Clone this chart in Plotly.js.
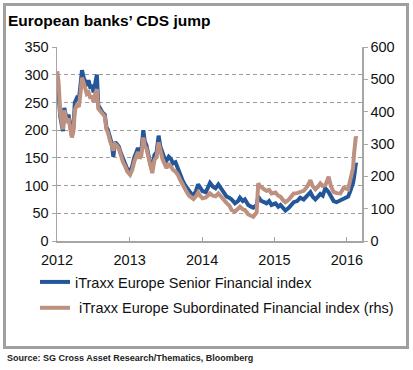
<!DOCTYPE html>
<html>
<head>
<meta charset="utf-8">
<script src="https://cdn.plot.ly/plotly-3.0.1.min.js"></script>
<style>html,body{margin:0;padding:0;background:#fff;}#chart{width:413px;height:370px;}</style>
</head>
<body>
<div id="chart"></div>
<script>
const dates = [
"2012-01-02","2012-01-09","2012-01-17","2012-01-24","2012-01-31","2012-02-07","2012-02-14","2012-02-21","2012-02-28","2012-03-06",
"2012-03-16","2012-03-24","2012-03-31","2012-04-10","2012-04-20","2012-04-28","2012-05-06","2012-05-14","2012-05-21","2012-05-30",
"2012-06-08","2012-06-18","2012-06-25","2012-07-03","2012-07-12","2012-07-20","2012-07-27","2012-08-07","2012-08-17","2012-08-29",
"2012-09-06","2012-09-14","2012-09-24","2012-10-03","2012-10-11","2012-10-19","2012-10-29","2012-11-08","2012-11-16","2012-11-28",
"2012-12-10","2012-12-20","2013-01-03","2013-01-14","2013-01-24","2013-02-04","2013-02-12","2013-02-20","2013-03-01","2013-03-11",
"2013-03-18","2013-03-27","2013-04-08","2013-04-16","2013-04-25","2013-05-06","2013-05-17","2013-05-27","2013-06-05","2013-06-15",
"2013-06-25","2013-07-06","2013-07-17","2013-07-28","2013-08-08","2013-08-20","2013-09-01","2013-09-12","2013-09-24","2013-10-05",
"2013-10-17","2013-10-28","2013-11-08","2013-11-19","2013-12-01","2013-12-12","2013-12-22","2014-01-03","2014-01-20","2014-02-10",
"2014-02-25","2014-03-10","2014-03-24","2014-04-17","2014-05-05","2014-05-18","2014-05-30","2014-06-16","2014-07-01","2014-07-11",
"2014-07-25","2014-08-05","2014-08-22","2014-09-05","2014-09-16","2014-10-03","2014-10-11","2014-10-20","2014-10-28","2014-11-10",
"2014-11-22","2014-12-05","2014-12-17","2015-01-06","2015-01-20","2015-01-31","2015-02-15","2015-02-25","2015-03-14","2015-03-25",
"2015-04-08","2015-04-25","2015-05-11","2015-05-28","2015-06-15","2015-07-01","2015-07-12","2015-07-26","2015-08-08","2015-08-20",
"2015-09-01","2015-09-14","2015-10-01","2015-10-12","2015-10-26","2015-11-10","2015-11-29","2015-12-16","2016-01-07","2016-01-18",
"2016-01-24","2016-02-01","2016-02-06","2016-02-10","2016-02-15","2016-02-18"
];
const seniorFin = [
285,265,225,215,198,240,225,215,228,212,
190,205,250,258,255,280,308,295,288,280,
290,275,282,268,285,300,245,238,232,228,
205,200,185,175,152,178,175,170,160,148,
140,130,125,135,150,162,168,158,162,200,
180,172,150,138,130,155,160,190,170,158,
150,145,152,148,140,142,130,120,110,102,
95,88,85,82,90,102,95,90,88,105,
98,95,102,88,80,78,75,68,72,78,
72,75,65,62,60,65,80,75,72,70,
68,72,65,68,62,65,58,55,60,65,
70,72,78,75,82,88,80,75,80,85,
82,95,88,80,72,70,73,75,80,90,
95,105,115,130,140,138
];
const subFin = [
525,490,395,370,345,405,385,365,380,355,
320,340,405,420,415,455,505,490,470,455,
460,440,450,430,455,470,410,400,395,385,
345,335,310,295,280,300,295,285,265,245,
230,215,205,220,245,260,275,255,265,320,
295,285,250,225,210,250,260,305,280,255,
240,225,240,230,220,215,205,190,175,160,
150,140,135,130,138,150,140,132,135,147,
140,138,147,127,117,110,96,91,100,106,
98,96,82,78,75,88,178,170,165,160,
155,158,147,150,140,137,125,120,128,138,
147,148,152,155,168,188,170,160,168,178,
170,172,199,170,152,148,147,165,160,185,
209,225,270,313,323,318
];
const seriesNames = ["iTraxx Europe Senior Financial index", " iTraxx Europe Subordinated Financial index (rhs)"];
const leftTicks = [0,50,100,150,200,250,300,350];
const rightTicks = [0,100,200,300,400,500,600];

const font = "Arial, 'Liberation Sans', sans-serif";
const traces = [
  {x: dates, y: seniorFin, type: "scatter", mode: "lines", name: seriesNames[0], legendgroup: "a",
   line: {color: "#23579A", width: 4}, xaxis: "x", yaxis: "y"},
  {x: dates, y: subFin, type: "scatter", mode: "lines", name: seriesNames[1], legendgroup: "b",
   line: {color: "#BD907F", width: 4}, xaxis: "x", yaxis: "y2"}
];
const layout = {
  width: 413, height: 370,
  margin: {l: 57, r: 51, t: 47, b: 129, autoexpand: false},
  paper_bgcolor: "#fff", plot_bgcolor: "rgba(0,0,0,0)",
  font: {family: font, color: "#111", size: 14.5},
  title: {text: "<b>European banks’ CDS jump</b>", x: 8/413, xanchor: "left", xref: "container",
          y: 1 - 21/370, yanchor: "middle", yref: "container", font: {size: 15.5, color: "#000", family: font}},
  xaxis: {type: "date", range: ["2012-01-01", "2016-03-17"], tick0: "2012-01-01", dtick: "M12", tickformat: "%Y",
          showgrid: false, zeroline: false, showline: true, linecolor: "#A6A6A6", linewidth: 1.5,
          ticks: "inside", ticklen: 4, tickcolor: "#A6A6A6", ticklabelstandoff: 5, tickfont: {size: 14.5, color: "#111"}},
  yaxis: {range: [0, 350], tickvals: leftTicks, showgrid: true, gridcolor: "#9E9E9E", gridwidth: 1, griddash: "4px,3px",
          zeroline: false, showline: true, linecolor: "#A6A6A6", linewidth: 1.5, ticks: "outside", ticklen: 4,
          tickcolor: "#A6A6A6", tickfont: {size: 14.5, color: "#111"}},
  yaxis2: {range: [0, 600], tickvals: rightTicks, overlaying: "y", side: "right", showgrid: false, zeroline: false,
           showline: true, linecolor: "#A6A6A6", linewidth: 1.5, ticks: "outside", ticklen: 4, tickcolor: "#A6A6A6",
           tickfont: {size: 14.5, color: "#111"}},
  showlegend: true,
  legend: {x: (35 - 57)/305, y: (241 - 266)/194, xanchor: "left", yanchor: "top",
           traceorder: "grouped", tracegroupgap: 4, font: {size: 14.5, color: "#111"}, bgcolor: "rgba(0,0,0,0)"},
  annotations: [
    {text: "<b>Source: SG Cross Asset Research/Thematics, Bloomberg</b>", xref: "paper", yref: "paper",
     x: (5 - 57)/305, y: (241 - 358)/194, xanchor: "left", yanchor: "middle", showarrow: false,
     font: {size: 9, color: "#222", family: font}}
  ],
  shapes: [
    {type: "rect", xref: "paper", yref: "paper", x0: (4.5 - 57)/305, x1: (407.5 - 57)/305,
     y0: (241 - 347.5)/194, y1: (241 - 4.5)/194, line: {color: "#A0A0A0", width: 3}, layer: "above"}
  ]
};
Plotly.newPlot("chart", traces, layout, {displayModeBar: false, staticPlot: true});
</script>
</body>
</html>
